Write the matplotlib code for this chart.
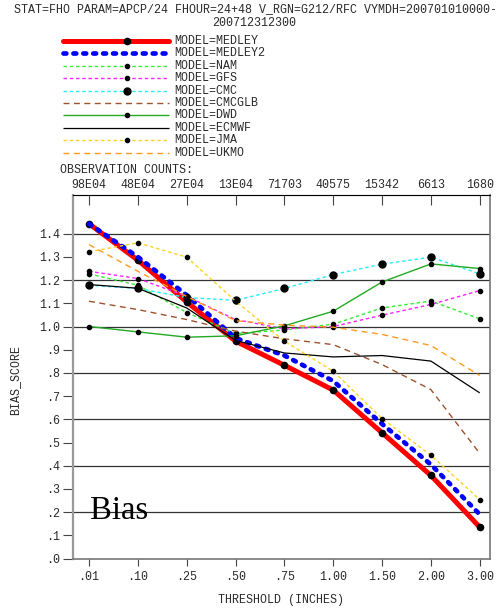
import numpy as np
import matplotlib
matplotlib.use("Agg")
import matplotlib.pyplot as plt
from matplotlib.lines import Line2D

W, H = 501, 608
MONO = "Liberation Mono"
TXT = "#2a2a2a"

thresholds = [".01", ".10", ".25", ".50", ".75", "1.00", "1.50", "2.00", "3.00"]
obs_counts = ["98E04", "48E04", "27E04", "13E04", "71703", "40575", "15342", "6613", "1680"]

models = ["MEDLEY", "MEDLEY2", "NAM", "GFS", "CMC", "CMCGLB", "DWD", "ECMWF", "JMA", "UKMO"]

medley = [1.443, 1.286, 1.106, 0.937, 0.833, 0.726, 0.542, 0.358, 0.135]
medley2 = [1.443, 1.300, 1.135, 0.950, 0.875, 0.765, 0.580, 0.405, 0.190]
nam = [1.227, 1.178, 1.060, 0.970, 0.985, 1.010, 1.080, 1.110, 1.033]
gfs = [1.238, 1.207, 1.130, 1.030, 0.990, 1.000, 1.049, 1.095, 1.155]
cmc = [1.178, 1.164, 1.125, 1.113, 1.164, 1.224, 1.269, 1.299, 1.227]
cmcglb = [1.109, 1.073, 1.030, 0.980, 0.947, 0.922, 0.836, 0.728, 0.453]
dwd = [1.000, 0.977, 0.954, 0.960, 1.003, 1.066, 1.192, 1.270, 1.250]
ecmwf = [1.181, 1.165, 1.080, 0.940, 0.886, 0.869, 0.875, 0.851, 0.714]
jma = [1.322, 1.361, 1.299, 1.110, 0.937, 0.807, 0.603, 0.445, 0.254]
ukmo = [1.353, 1.238, 1.130, 1.025, 1.006, 0.997, 0.966, 0.918, 0.789]

series = [medley, medley2, nam, gfs, cmc, cmcglb, dwd, ecmwf, jma, ukmo]

# colour, linewidth, dash pattern (None = solid), capstyle, marker size (0 = none)
styles = [
    ("#ff0000", 3.6, None, "round", 4.5),
    ("#0000ff", 3.4, (0, (0.6, 1.5)), "round", 0),
    ("#33ee33", 1.0, (0, (2.5, 2.0)), "butt", 3),
    ("#ff22ff", 1.0, (0, (2.5, 2.0)), "butt", 3),
    ("#22eeff", 1.0, (0, (2.5, 2.0)), "butt", 5),
    ("#a0522d", 1.0, (0, (4.3, 3.2)), "butt", 0),
    ("#22aa22", 1.0, None, "butt", 3),
    ("#000000", 0.9, None, "butt", 0),
    ("#ffd21f", 1.0, (0, (2.5, 2.0)), "butt", 3),
    ("#ff9922", 1.0, (0, (4.3, 3.2)), "butt", 0),
]


def fx(x):
    return x / W


def fy(y):
    return 1 - y / H


def line_kw(style):
    color, lw, dash, cap, ms = style
    kw = dict(color=color, lw=lw, solid_capstyle=cap, dash_capstyle=cap)
    kw["linestyle"] = dash if dash is not None else "-"
    if ms:
        kw.update(marker="o", ms=ms, mfc="black", mec="black")
    return kw


def main():
    fig = plt.figure(figsize=(W / 100, H / 100), dpi=100)
    ax = fig.add_axes([fx(73), fy(558.5), fx(490) - fx(73), fy(195) - fy(558.5)])

    x = np.arange(len(thresholds))
    ax.set_xlim(-0.328, 8.21)
    ax.set_ylim(0, 1.567)

    for yv in np.arange(0.2, 1.41, 0.2):
        ax.axhline(yv, color="#333333", lw=0.9, zorder=1)

    for vals, st in zip(series, styles):
        ax.plot(x, vals, zorder=3, **line_kw(st))

    yt = np.round(np.arange(0, 1.41, 0.1), 1)
    ylab = [("%.1f" % v) if v >= 1 else ("%.1f" % v)[1:] for v in yt]
    ax.set_yticks(yt, ylab)
    ax.set_xticks(x, thresholds)
    ax.tick_params(axis="y", direction="out", length=7, width=0.8, color="#444444",
                   pad=2, labelsize=8.4, labelcolor=TXT)
    ax.tick_params(axis="x", direction="out", length=5, width=0.8, color="#444444",
                   pad=4, labelsize=8.4, labelcolor=TXT)
    for lab in ax.get_xticklabels() + ax.get_yticklabels():
        lab.set_family(MONO)

    top = ax.secondary_xaxis("top")
    top.set_xticks(x, obs_counts)
    top.tick_params(direction="in", length=7, width=0.8, color="#444444",
                    pad=3, labelsize=8.4, labelcolor=TXT)
    for lab in top.get_xticklabels():
        lab.set_family(MONO)
    top.spines["top"].set_color("#888888")

    for s in ["left", "right", "bottom"]:
        ax.spines[s].set_color("#777777")
        ax.spines[s].set_linewidth(1.2)
    ax.spines["left"].set_color("#999999")
    ax.spines["left"].set_linewidth(1.6)

    fig.text(fx(90), fy(519), "Bias", family="Liberation Serif", fontsize=23.5,
             va="baseline", ha="left", color="black")

    # titles
    fig.text(fx(256), fy(9), "STAT=FHO PARAM=APCP/24 FHOUR=24+48 V_RGN=G212/RFC VYMDH=200701010000-",
             family=MONO, fontsize=8.4, ha="center", va="center", color=TXT)
    fig.text(fx(254), fy(23), "200712312300", family=MONO, fontsize=8.4,
             ha="center", va="center", color=TXT)

    # legend
    for i, (name, st) in enumerate(zip(models, styles)):
        y = fy(41 + i * 12.4)
        kw = line_kw(st)
        ms = kw.pop("ms", 0)
        kw.pop("marker", None)
        kw.pop("mfc", None)
        kw.pop("mec", None)
        fig.add_artist(Line2D([fx(63), fx(169)], [y, y], transform=fig.transFigure, **kw))
        if ms:
            fig.add_artist(Line2D([fx(127)], [y], transform=fig.transFigure, marker="o",
                                  ms=ms, mfc="black", mec="black", linestyle="none"))
        fig.text(fx(174), y, "MODEL=" + name, family=MONO, fontsize=8.4,
                 ha="left", va="center", color=TXT)

    fig.text(fx(60), fy(170), "OBSERVATION COUNTS:", family=MONO, fontsize=8.4,
             ha="left", va="center", color=TXT)
    fig.text(fx(281), fy(600), "THRESHOLD (INCHES)", family=MONO, fontsize=8.4,
             ha="center", va="center", color=TXT)
    fig.text(fx(15), fy(380), "BIAS_SCORE", family=MONO, fontsize=8.4, rotation=90,
             ha="center", va="center", color=TXT)

    fig.savefig("out.png", dpi=100)


if __name__ == "__main__":
    main()
